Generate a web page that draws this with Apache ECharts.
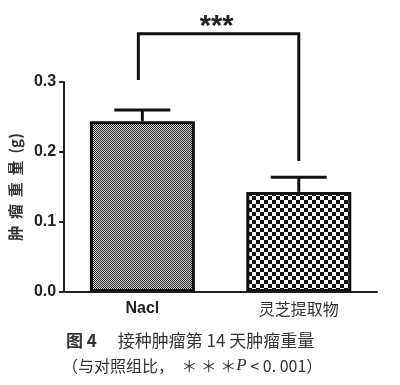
<!DOCTYPE html>
<html>
<head>
<meta charset="utf-8">
<script src="https://cdn.jsdelivr.net/npm/echarts@6/dist/echarts.min.js"></script>
<style>
  html, body { margin: 0; padding: 0; background: #fff; }
  #chart { width: 400px; height: 385px; }
</style>
</head>
<body>
<div id="chart"></div>
<script>
// Tumour weight on day 14 after inoculation
const categories = ['Nacl', '灵芝提取物'];
const meanWeight = [0.244, 0.143];
const sem = [0.016, 0.021];
const yTicks = [0, 0.1, 0.2, 0.3];
// significance bracket: left foot, top, right foot (in g)
const bracketLevels = [0.303, 0.369, 0.187];
const significance = '***';

// checkerboard fills for the two bars
function checker(cell, dark, light) {
  const c = document.createElement('canvas');
  c.width = c.height = cell * 2;
  const ctx = c.getContext('2d');
  ctx.fillStyle = light;
  ctx.fillRect(0, 0, cell * 2, cell * 2);
  ctx.fillStyle = dark;
  ctx.fillRect(0, 0, cell, cell);
  ctx.fillRect(cell, cell, cell, cell);
  return c;
}
const fills = [
  { image: checker(1, '#2a2a2a', '#d4d4d4'), repeat: 'repeat' },
  { image: checker(4, '#111', '#fff'), repeat: 'repeat' }
];

const chart = echarts.init(document.getElementById('chart'));
const latin = 'Liberation Sans, Arial, sans-serif';

chart.setOption({
  animation: false,
  backgroundColor: '#fff',
  grid: { left: 59, right: 23, top: 82, bottom: 93 },
  xAxis: {
    type: 'category',
    data: categories,
    axisLine: { lineStyle: { color: '#222', width: 2 } },
    axisTick: { alignWithLabel: true, length: 5, lineStyle: { color: '#222', width: 2 } },
    axisLabel: {
      margin: 9,
      formatter: v => v === 'Nacl' ? '{b|' + v + '}' : '{c|' + v + '}',
      rich: {
        b: { fontFamily: latin, fontWeight: 'bold', fontSize: 16, color: '#222' },
        c: { fontFamily: 'Noto Sans CJK SC', fontSize: 16, color: '#333' }
      }
    }
  },
  yAxis: {
    type: 'value',
    min: yTicks[0],
    max: yTicks[yTicks.length - 1],
    interval: 0.1,
    name: '肿  瘤  重  量  (g)',
    nameLocation: 'middle',
    nameGap: 39,
    nameRotate: 90,
    nameTextStyle: { fontFamily: 'Noto Sans CJK SC', fontSize: 15, color: '#333', fontWeight: 'bold' },
    axisLine: { show: true, lineStyle: { color: '#222', width: 2 } },
    axisTick: { show: true, length: 5, lineStyle: { color: '#222', width: 2 } },
    axisLabel: { margin: 8, formatter: v => v.toFixed(1), fontFamily: latin, fontWeight: 'bold', fontSize: 16, color: '#222' },
    splitLine: { show: false }
  },
  series: [
    {
      type: 'bar',
      barWidth: 105,
      data: meanWeight.map((v, i) => ({
        value: v,
        itemStyle: { color: fills[i], borderColor: '#111', borderWidth: 3 }
      })),
      z: 2
    },
    {
      // upper error bars
      type: 'custom',
      data: meanWeight.map((v, i) => [i, v, v + sem[i]]),
      z: 3,
      renderItem: (params, api) => {
        const base = api.coord([api.value(0), api.value(1)]);
        const top = api.coord([api.value(0), api.value(2)]);
        const half = 28;
        const style = { stroke: '#111', lineWidth: 3 };
        return {
          type: 'group',
          children: [
            { type: 'line', shape: { x1: base[0], y1: base[1], x2: top[0], y2: top[1] }, style },
            { type: 'line', shape: { x1: top[0] - half, y1: top[1], x2: top[0] + half, y2: top[1] }, style }
          ]
        };
      }
    },
    {
      // significance bracket
      type: 'custom',
      data: [[0, 1].concat(bracketLevels)],
      z: 3,
      renderItem: (params, api) => {
        const l0 = api.coord([api.value(0), api.value(2)]);
        const lt = api.coord([api.value(0), api.value(3)]);
        const rt = api.coord([api.value(1), api.value(3)]);
        const r0 = api.coord([api.value(1), api.value(4)]);
        return {
          type: 'group',
          children: [
            {
              type: 'polyline',
              shape: { points: [[l0[0] - 4, l0[1]], [lt[0] - 4, lt[1]], rt, r0] },
              style: { stroke: '#111', lineWidth: 3, fill: null }
            },
            {
              type: 'text',
              style: {
                x: (lt[0] + rt[0]) / 2 - 4, y: lt[1] + 8,
                text: significance,
                align: 'center', verticalAlign: 'bottom',
                fontFamily: latin,
                fontWeight: 'bold', fontSize: 29, fill: '#222'
              }
            }
          ]
        };
      }
    }
  ],
  graphic: [
    {
      type: 'text',
      left: 66, top: 332,
      style: {
        text: '{h|图 4}{t|　 接种肿瘤第 14 天肿瘤重量}',
        rich: {
          h: { fontFamily: 'Noto Sans CJK SC', fontWeight: 'bold', fontSize: 17, fill: '#333' },
          t: { fontFamily: 'Noto Sans CJK SC', fontSize: 17, fill: '#333' }
        }
      }
    },
    {
      type: 'text',
      left: 62, top: 357,
      style: {
        text: '{t|（与对照组比，  ＊ ＊ ＊}{i|P}{t| < 0. 001）}',
        rich: {
          t: { fontFamily: 'Noto Sans CJK SC', fontSize: 16, fill: '#333' },
          i: { fontFamily: 'Liberation Serif, serif', fontStyle: 'italic', fontSize: 17, fill: '#333' }
        }
      }
    }
  ]
});
</script>
</body>
</html>
